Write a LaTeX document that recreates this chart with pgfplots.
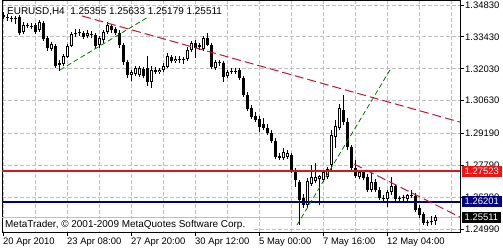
\documentclass[border=0pt]{standalone}
\usepackage{fontspec}
\setmainfont{Liberation Sans}
\usepackage{pgfplots}
\usepackage{pgfplotstable}
\pgfplotsset{compat=1.18}
\definecolor{gridc}{RGB}{192,192,192}
\definecolor{trendred}{RGB}{200,20,50}
\definecolor{trendgreen}{RGB}{0,120,0}
\definecolor{hred}{RGB}{210,25,35}
\definecolor{boxred}{RGB}{240,20,20}
\definecolor{navyc}{RGB}{0,0,128}
\pgfplotstableread{
x o h l c
0 1.3439 1.3452 1.3422 1.3430
1 1.3430 1.3444 1.3413 1.3426
2 1.3426 1.3435 1.3408 1.3422
3 1.3422 1.3435 1.3400 1.3426
4 1.3430 1.3439 1.3351 1.3360
5 1.3365 1.3408 1.3356 1.3395
6 1.3395 1.3404 1.3382 1.3391
7 1.3391 1.3404 1.3378 1.3386
8 1.3395 1.3404 1.3356 1.3365
9 1.3373 1.3417 1.3365 1.3408
10 1.3404 1.3413 1.3325 1.3334
11 1.3338 1.3347 1.3281 1.3294
12 1.3290 1.3321 1.3281 1.3312
13 1.3303 1.3312 1.3206 1.3215
14 1.3220 1.3242 1.3193 1.3228
15 1.3224 1.3268 1.3215 1.3259
16 1.3255 1.3312 1.3250 1.3303
17 1.3303 1.3365 1.3299 1.3356
18 1.3356 1.3378 1.3343 1.3360
19 1.3360 1.3378 1.3347 1.3365
20 1.3360 1.3369 1.3334 1.3343
21 1.3347 1.3373 1.3338 1.3360
22 1.3356 1.3369 1.3338 1.3351
23 1.3351 1.3360 1.3290 1.3303
24 1.3307 1.3347 1.3294 1.3338
25 1.3329 1.3373 1.3316 1.3365
26 1.3365 1.3408 1.3356 1.3395
27 1.3391 1.3400 1.3360 1.3373
28 1.3378 1.3386 1.3351 1.3360
29 1.3360 1.3373 1.3294 1.3307
30 1.3307 1.3316 1.3220 1.3233
31 1.3233 1.3242 1.3163 1.3176
32 1.3176 1.3198 1.3149 1.3189
33 1.3180 1.3215 1.3171 1.3206
34 1.3176 1.3215 1.3167 1.3206
35 1.3202 1.3211 1.3163 1.3171
36 1.3206 1.3259 1.3127 1.3145
37 1.3145 1.3215 1.3119 1.3198
38 1.3198 1.3211 1.3180 1.3189
39 1.3189 1.3206 1.3180 1.3198
40 1.3198 1.3228 1.3189 1.3215
41 1.3211 1.3272 1.3206 1.3259
42 1.3255 1.3264 1.3228 1.3237
43 1.3237 1.3259 1.3228 1.3246
44 1.3246 1.3259 1.3228 1.3242
45 1.3242 1.3255 1.3224 1.3246
46 1.3246 1.3299 1.3237 1.3286
47 1.3286 1.3325 1.3277 1.3316
48 1.3316 1.3329 1.3250 1.3294
49 1.3299 1.3316 1.3286 1.3307
50 1.3290 1.3347 1.3281 1.3338
51 1.3338 1.3360 1.3303 1.3307
52 1.3307 1.3316 1.3202 1.3211
53 1.3206 1.3242 1.3198 1.3233
54 1.3233 1.3242 1.3215 1.3228
55 1.3228 1.3237 1.3145 1.3167
56 1.3171 1.3198 1.3163 1.3189
57 1.3189 1.3206 1.3180 1.3193
58 1.3193 1.3206 1.3180 1.3189
59 1.3198 1.3206 1.3154 1.3163
60 1.3163 1.3171 1.3079 1.3088
61 1.3088 1.3101 1.3018 1.3026
62 1.3031 1.3044 1.2983 1.2991
63 1.2996 1.3013 1.2969 1.2978
64 1.2983 1.2996 1.2926 1.2947
65 1.2961 1.2987 1.2934 1.2943
66 1.2943 1.2961 1.2912 1.2921
67 1.2921 1.2934 1.2877 1.2886
68 1.2886 1.2899 1.2807 1.2816
69 1.2820 1.2833 1.2803 1.2811
70 1.2811 1.2855 1.2803 1.2838
71 1.2816 1.2847 1.2807 1.2833
72 1.2825 1.2833 1.2746 1.2759
73 1.2759 1.2767 1.2684 1.2715
74 1.2706 1.2715 1.2517 1.2627
75 1.2636 1.2653 1.2592 1.2605
76 1.2605 1.2724 1.2592 1.2710
77 1.2697 1.2781 1.2688 1.2728
78 1.2710 1.2789 1.2702 1.2728
79 1.2719 1.2737 1.2605 1.2732
80 1.2715 1.2759 1.2706 1.2750
81 1.2728 1.2772 1.2719 1.2763
82 1.2781 1.2934 1.2759 1.2912
83 1.2904 1.2978 1.2855 1.2952
84 1.2943 1.3048 1.2934 1.3031
85 1.3022 1.3088 1.2956 1.2969
86 1.2969 1.2987 1.2847 1.2860
87 1.2860 1.2868 1.2750 1.2767
88 1.2767 1.2803 1.2724 1.2732
89 1.2728 1.2759 1.2719 1.2750
90 1.2750 1.2759 1.2715 1.2724
91 1.2728 1.2741 1.2662 1.2671
92 1.2671 1.2746 1.2662 1.2706
93 1.2706 1.2719 1.2662 1.2671
94 1.2671 1.2684 1.2627 1.2636
95 1.2636 1.2649 1.2623 1.2631
96 1.2631 1.2671 1.2596 1.2662
97 1.2662 1.2728 1.2649 1.2688
98 1.2688 1.2697 1.2623 1.2631
99 1.2631 1.2645 1.2618 1.2636
100 1.2636 1.2649 1.2623 1.2640
101 1.2631 1.2653 1.2623 1.2649
102 1.2649 1.2671 1.2636 1.2645
103 1.2645 1.2658 1.2574 1.2583
104 1.2592 1.2605 1.2548 1.2561
105 1.2566 1.2574 1.2517 1.2526
106 1.2526 1.2539 1.2513 1.2530
107 1.2535 1.2557 1.2517 1.2530
108 1.25355 1.25633 1.25179 1.25511
}\candles
\begin{document}
\begin{tikzpicture}
\begin{axis}[
  at={(2bp,18bp)}, anchor=south west,
  scale only axis, width=458bp, height=231bp,
  xmin=-0.375, xmax=114.125, ymin=1.24865, ymax=1.35006,
  axis line style={line width=1bp, black},
  tick align=outside, major tick length=4bp, minor tick length=0pt,
  tick style={black, line width=1bp},
  xtick={-0.125,15.875,31.875,47.875,63.875,79.875,95.875},
  minor xtick={7.875,23.875,39.875,55.875,71.875,87.875,103.875,111.875},
  xticklabels={20 Apr 2010,23 Apr 08:00,27 Apr 20:00,30 Apr 12:00,5 May 00:00,7 May 16:00,12 May 04:00},
  xtick pos=bottom,
  ytick={1.3483,1.3343,1.3203,1.3063,1.2919,1.2779,1.2639,1.2499},
  yticklabels={1.34830,1.33430,1.32030,1.30630,1.29190,1.27790,1.26390,1.24990},
  ytick pos=right, yticklabel pos=right,
  grid=both,
  major grid style={gridc, line width=0.8bp, dash pattern=on 4bp off 2bp},
  minor grid style={gridc, line width=0.8bp, dash pattern=on 4bp off 2bp},
  ticklabel style={font=\fontsize{9.5}{11}\selectfont, inner sep=0pt},
  xticklabel style={anchor=north west, yshift=-1.5bp},
  yticklabel style={anchor=west, xshift=1bp},
  clip mode=individual,
]
% bid line
\addplot[gridc, line width=1bp, forget plot] coordinates {(-0.375,1.25511) (114.125,1.25511)};
% wicks
\addplot[draw=none, mark=none, forget plot,
  error bars/.cd, y dir=plus, y explicit, error mark=none,
  error bar style={draw=black, line width=1bp, solid}]
  table[x=x, y=l, y error plus expr={\thisrow{h}-\thisrow{l}}] {\candles};
% bodies
\addplot[draw=none, mark=none, forget plot,
  error bars/.cd, y dir=plus, y explicit, error mark=none,
  error bar style={draw=black, line width=3bp, solid}]
  table[x=x, y expr={min(\thisrow{o},\thisrow{c})}, y error plus expr={max(abs(\thisrow{c}-\thisrow{o}),0.00044)}] {\candles};
% hollow insides of bull candles
\addplot[draw=none, mark=none, forget plot,
  error bars/.cd, y dir=plus, y explicit, error mark=none,
  error bar style={draw=white, line width=1bp, solid}]
  table[x=x, y expr={\thisrow{o}+0.00044}, y error plus expr={max(\thisrow{c}-\thisrow{o}-0.00088,0)}] {\candles};
% horizontal levels
\addplot[hred, line width=2bp, forget plot] coordinates {(-0.375,1.27523) (114.125,1.27523)};
\addplot[navyc, line width=2bp, forget plot] coordinates {(-0.375,1.26201) (114.125,1.26201)};
% trend lines
\addplot[trendred, line width=1bp, dash pattern=on 9bp off 4bp, forget plot] coordinates {(19.625,1.3435) (114.125,1.2969)};
\addplot[trendred, line width=1bp, dash pattern=on 9bp off 4bp, forget plot] coordinates {(87.625,1.2785) (114.125,1.2552)};
\addplot[trendgreen, line width=0.8bp, dash pattern=on 5bp off 3bp, forget plot] coordinates {(14.125,1.3198) (36.125,1.3430)};
\addplot[trendgreen, line width=0.8bp, dash pattern=on 5bp off 3bp, forget plot] coordinates {(73.375,1.2517) (96.625,1.3198)};
% texts
\node[anchor=north west, inner sep=0pt, font=\fontsize{10}{12}\selectfont, xshift=5bp, yshift=-6bp] at (rel axis cs:0,1) {EURUSD,H4\ \ 1.25355 1.25633 1.25179 1.25511};
\fill[white] (rel axis cs:0,0) ++(0.6bp,0.6bp) rectangle ++(250bp,12.5bp);
\node[anchor=base west, inner sep=0pt, font=\fontsize{10}{12}\selectfont, xshift=3bp, yshift=4.7bp] at (rel axis cs:0,0) {MetaTrader, © 2001-2009 MetaQuotes Software Corp.};
\coordinate (b1) at (axis cs:114.125,1.27523);
\coordinate (b2) at (axis cs:114.125,1.26201);
\coordinate (b3) at (axis cs:114.125,1.25511);
\end{axis}
\node[anchor=west, fill=boxred, text=white, inner xsep=3bp, inner ysep=0pt, minimum height=11bp, font=\fontsize{9.5}{11}\selectfont] at ([xshift=1.5bp]b1) {1.27523};
\node[anchor=west, fill=navyc, text=white, inner xsep=3bp, inner ysep=0pt, minimum height=11bp, font=\fontsize{9.5}{11}\selectfont] at ([xshift=1.5bp]b2) {1.26201};
\node[anchor=west, fill=black, text=white, inner xsep=3bp, inner ysep=0pt, minimum height=11bp, font=\fontsize{9.5}{11}\selectfont] at ([xshift=1.5bp]b3) {1.25511};
\pgfresetboundingbox
\useasboundingbox (0,0) rectangle (503bp,250bp);
\end{tikzpicture}
\end{document}
